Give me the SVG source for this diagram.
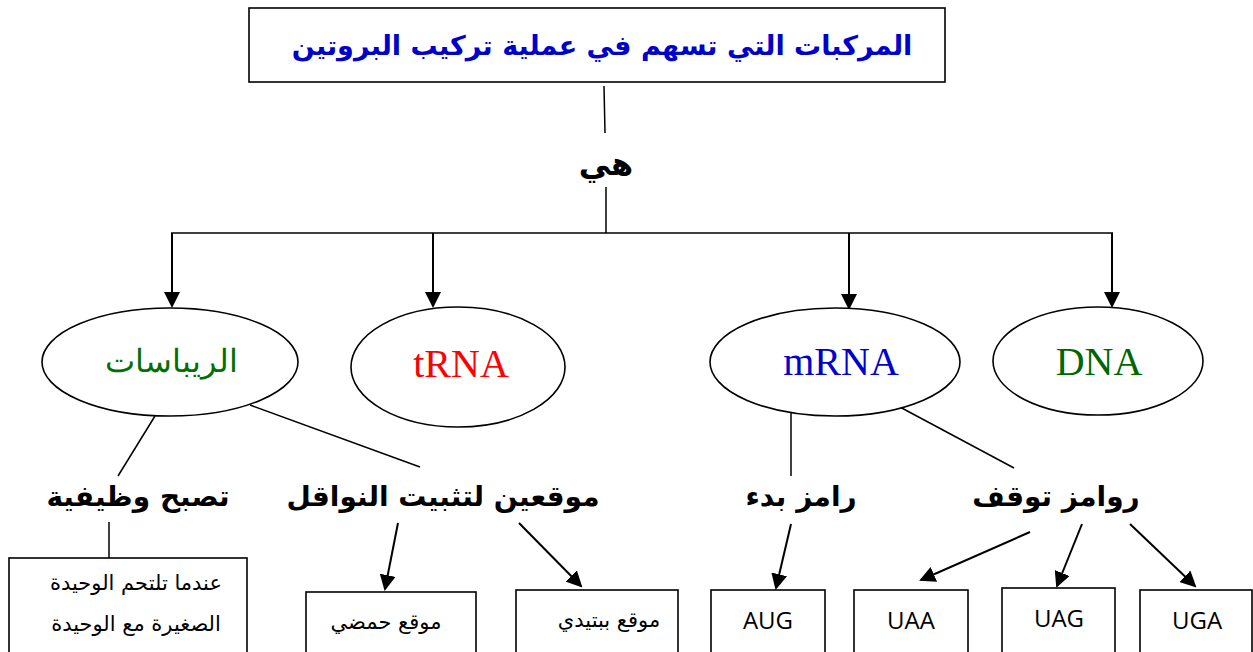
<svg xmlns="http://www.w3.org/2000/svg" width="1253" height="652" viewBox="0 0 1253 652">
<style>
.box{fill:#fff;stroke:#000;stroke-width:1.6}
.ell{fill:#fff;stroke:#000;stroke-width:1.6}
.ln{stroke:#000;stroke-width:1.5;fill:none}
.ar{stroke:#000;stroke-width:2;fill:none;marker-end:url(#ah)}
.ttl{font-family:"DejaVu Sans","Liberation Sans",sans-serif;font-weight:bold;font-size:27px;fill:#0000CC;text-anchor:middle}
.lbl{font-family:"DejaVu Sans","Liberation Sans",sans-serif;font-weight:bold;font-size:28px;fill:#000;text-anchor:middle}
.ser{font-family:"Liberation Serif","DejaVu Serif",serif;font-size:40px;text-anchor:middle}
.sm{font-family:"DejaVu Sans","Liberation Sans",sans-serif;font-size:21px;fill:#000;text-anchor:middle}
.cd{font-family:"Open Sans","Liberation Sans",sans-serif;font-size:24px;fill:#000;text-anchor:middle}
</style>
<defs>
<marker id="ah" markerWidth="8" markerHeight="8" refX="7" refY="4" orient="auto" markerUnits="strokeWidth">
<path d="M0,0 L8,4 L0,8 Z" fill="#000"/>
</marker>
<clipPath id="pclip"><rect x="517" y="591" width="160" height="70"/></clipPath>
</defs>
<g id="connectors">
<line class="ln" x1="604" y1="86" x2="605" y2="133"/>
<line class="ln" x1="606" y1="187" x2="606" y2="233"/>
<line class="ln" x1="171" y1="233" x2="1113" y2="233"/>
<line class="ar" x1="172" y1="233" x2="172" y2="306"/>
<line class="ar" x1="433" y1="233" x2="433" y2="306"/>
<line class="ar" x1="849" y1="233" x2="849" y2="308"/>
<line class="ar" x1="1112" y1="233" x2="1112" y2="306"/>
<line class="ln" x1="155" y1="416" x2="118" y2="476"/>
<line class="ln" x1="250" y1="405" x2="420" y2="467"/>
<line class="ln" x1="791" y1="407" x2="791" y2="476"/>
<line class="ln" x1="898" y1="406" x2="1014" y2="468"/>
<line class="ln" x1="109" y1="522" x2="109" y2="558"/>
<line class="ar" x1="398" y1="523" x2="385" y2="589"/>
<line class="ar" x1="519" y1="523" x2="581" y2="586"/>
<line class="ar" x1="791" y1="524" x2="776" y2="588"/>
<line class="ar" x1="1030" y1="532" x2="921" y2="580"/>
<line class="ar" x1="1082" y1="524" x2="1057" y2="586"/>
<line class="ar" x1="1130" y1="524" x2="1195" y2="586"/>
</g>
<g id="title">
<rect class="box" x="249" y="8" width="696" height="74"/>
<text class="ttl" x="602" y="55" direction="rtl">المركبات التي تسهم في عملية تركيب البروتين</text>
</g>
<g id="hiya"><text class="lbl" x="606" y="175" style="font-size:32px" direction="rtl">هي</text></g>
<g id="ribosomes">
<ellipse class="ell" cx="170" cy="362" rx="128" ry="54"/>
<text class="ser" x="171" y="372" fill="#007000" style="font-size:32px" direction="rtl">الريباسات</text>
</g>
<g id="trna">
<ellipse class="ell" cx="458" cy="367" rx="107" ry="60"/>
<text class="ser" x="461" y="377" fill="#FF0000">tRNA</text>
</g>
<g id="mrna">
<ellipse class="ell" cx="835" cy="362" rx="125" ry="54"/>
<text class="ser" x="841" y="375" fill="#0000CC">mRNA</text>
</g>
<g id="dna">
<ellipse class="ell" cx="1098" cy="361" rx="105" ry="54"/>
<text class="ser" x="1099" y="375" fill="#006600">DNA</text>
</g>
<g id="functional"><text class="lbl" x="138" y="506" direction="rtl">تصبح وظيفية</text></g>
<g id="two-sites"><text class="lbl" x="443" y="506" direction="rtl">موقعين لتثبيت النواقل</text></g>
<g id="start-codon"><text class="lbl" x="801" y="506" direction="rtl">رامز بدء</text></g>
<g id="stop-codons"><text class="lbl" x="1056" y="506" direction="rtl">روامز توقف</text></g>
<g id="join-box">
<rect class="box" x="9" y="558" width="238" height="100"/>
<text class="sm" x="136" y="590" direction="rtl">عندما تلتحم الوحيدة</text>
<text class="sm" x="136" y="631" direction="rtl">الصغيرة مع الوحيدة</text>
</g>
<g id="acid-site">
<rect class="box" x="306" y="592" width="170" height="70"/>
<text class="sm" x="386" y="629" direction="rtl">موقع حمضي</text>
</g>
<g id="peptide-site">
<rect class="box" x="516" y="590" width="162" height="70"/>
<text class="sm" x="609" y="627" clip-path="url(#pclip)" direction="rtl">موقع ببتيدي</text>
</g>
<g id="aug">
<rect class="box" x="711" y="590" width="114" height="70"/>
<text class="cd" x="768" y="629">AUG</text>
</g>
<g id="uaa">
<rect class="box" x="854" y="590" width="114" height="70"/>
<text class="cd" x="911" y="629">UAA</text>
</g>
<g id="uag">
<rect class="box" x="1002" y="588" width="113" height="70"/>
<text class="cd" x="1059" y="627">UAG</text>
</g>
<g id="uga">
<rect class="box" x="1140" y="590" width="112" height="70"/>
<text class="cd" x="1197" y="629">UGA</text>
</g>
</svg>
